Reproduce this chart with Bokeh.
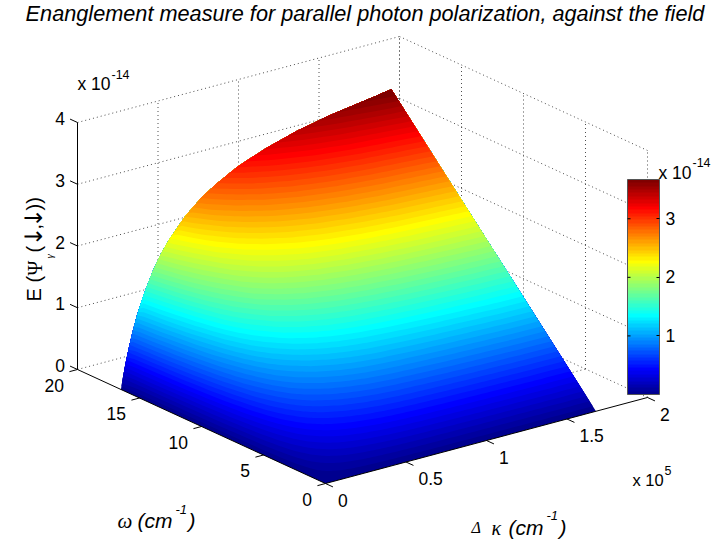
import numpy as np
from bokeh.core.properties import value
from bokeh.embed import file_html
from bokeh.models import ColorBar, FixedTicker, LinearColorMapper, Range1d
from bokeh.plotting import figure
from bokeh.resources import INLINE

TITLE = "Enanglement measure for parallel photon polarization, against the field"
K_TICKS = [0, 0.5, 1, 1.5, 2]
K_LABELS = ["0", "0.5", "1", "1.5", "2"]
W_TICKS = [0, 5, 10, 15, 20]
W_LABELS = ["0", "5", "10", "15", "20"]
Z_TICKS = [0, 1, 2, 3, 4]
Z_LABELS = ["0", "1", "2", "3", "4"]
CBAR_TICKS = [1, 2, 3]
CBAR_LABELS = ["1", "2", "3"]
CLIM = (0.0, 3.67)

# surface: kappa (x 1e5), omega, E (x 1e-14)
k_vals = [0, .01, .02, .03, .05, .07, .10, .14, .20, .25, .30, .40, .50, .60, .73, .90, 1.10, 1.30, 1.50, 1.68]
w_vals = [0, 5.5, 11, 16.5]
z_w0 = [0] * 20
z_w1 = [0, .05, .10, .14, .22, .29, .38, .49, .62, .71, .78, .89, .97, 1.03, 1.08, 1.12, 1.16, 1.19, 1.22, 1.23]
z_w2 = [0, .10, .19, .28, .43, .57, .75, .97, 1.23, 1.41, 1.55, 1.77, 1.92, 2.03, 2.14, 2.24, 2.32, 2.38, 2.42, 2.46]
z_w3 = [0, .15, .29, .42, .65, .86, 1.13, 1.43, 1.79, 2.03, 2.22, 2.53, 2.76, 2.93, 3.11, 3.28, 3.43, 3.54, 3.62, 3.69]

# ---- view of the 3-D box, in page pixels
ORIGIN = np.array([325.0, 483.0])
K_VEC = np.array([322.0, -86.0]) / 2      # per unit kappa
W_VEC = np.array([-248.0, -114.0]) / 20   # per unit omega
Z_VEC = np.array([0.0, -247.0]) / 4       # per unit E
BAR_LEFT, BAR_BOTTOM, BAR_W, BAR_H = 627, 394, 32, 215
SANS = value("Liberation Sans")
SERIF = value("Liberation Serif")
DEJA = value("DejaVu Sans")


def proj(k, w, z):
    k, w, z = np.asarray(k, float), np.asarray(w, float), np.asarray(z, float)
    return (ORIGIN[0] + K_VEC[0] * k + W_VEC[0] * w + Z_VEC[0] * z,
            ORIGIN[1] + K_VEC[1] * k + W_VEC[1] * w + Z_VEC[1] * z)


def jet(n):
    out = []
    for i in range(n):
        t = (i + 1) / n
        r = np.clip(min(4 * t - 1.5, -4 * t + 4.5), 0, 1)
        g = np.clip(min(4 * t - 0.5, -4 * t + 3.5), 0, 1)
        b = np.clip(min(4 * t + 0.5, -4 * t + 2.5), 0, 1)
        out.append("#%02x%02x%02x" % (round(r * 255), round(g * 255), round(b * 255)))
    return out


p = figure(width=711, height=539, output_backend="svg", toolbar_location=None,
           x_range=Range1d(0, 711), y_range=Range1d(539, 0),
           min_border=0, outline_line_color=None)
p.axis.visible = False
p.grid.visible = False

# ---- dotted box grid
gx0, gy0, gx1, gy1 = [], [], [], []


def seg(a, b):
    x0, y0 = proj(*a)
    x1, y1 = proj(*b)
    gx0.append(float(x0)); gy0.append(float(y0)); gx1.append(float(x1)); gy1.append(float(y1))


KM, WM, ZM = K_TICKS[-1], W_TICKS[-1], Z_TICKS[-1]
for z in Z_TICKS:
    seg((0, WM, z), (KM, WM, z))
    seg((KM, WM, z), (KM, 0, z))
for k in K_TICKS[1:]:
    seg((k, WM, 0), (k, WM, ZM))
    if k != KM:
        seg((k, 0, 0), (k, WM, 0))
for w in W_TICKS[1:]:
    seg((KM, w, 0), (KM, w, ZM))
    if w != WM:
        seg((0, w, 0), (KM, w, 0))
seg((KM, 0, 0), (KM, 0, ZM))
p.segment(gx0, gy0, gx1, gy1, line_color="#4d4d4d", line_width=1, line_dash="1 3")

# ---- surface, painted level by level from the colour map
palette = jet(64)
k_arr = np.array(k_vals, float)
w_arr = np.array(w_vals, float)
Z = np.array([z_w0, z_w1, z_w2, z_w3], float)
k_fine = np.concatenate([np.linspace(k_arr[i], k_arr[i + 1], 6, endpoint=False) for i in range(len(k_arr) - 1)] + [[k_arr[-1]]])
Z_fine = np.array([np.interp(k_fine, k_arr, row) for row in Z]).T
levels = np.linspace(CLIM[0], CLIM[1], 65)[:-1]
xs, ys = [], []
for i, lev in enumerate(levels):
    lo_w, lo_z = [], []
    for zc in Z_fine:
        if i == 0:
            lo_w.append(0.0); lo_z.append(0.0)
        elif lev >= zc[-1]:
            lo_w.append(w_arr[-1]); lo_z.append(zc[-1])
        else:
            lo_w.append(np.interp(lev, zc, w_arr)); lo_z.append(lev)
    px0, py0 = proj(k_fine, lo_w, lo_z)
    px1, py1 = proj(k_fine, np.full_like(k_fine, w_arr[-1]), Z_fine[:, -1])
    xs.append(np.concatenate([px0, px1[::-1]]).tolist())
    ys.append(np.concatenate([py0, py1[::-1]]).tolist())
p.patches(xs, ys, fill_color=palette, line_color=None)

# ---- axis lines and ticks
ax0, ay0, ax1, ay1 = [], [], [], []


def axis_seg(a, b):
    x0, y0 = proj(*a)
    x1, y1 = proj(*b)
    ax0.append(float(x0)); ay0.append(float(y0)); ax1.append(float(x1)); ay1.append(float(y1))


axis_seg((0, WM, 0), (0, WM, ZM))
axis_seg((0, 0, 0), (0, WM, 0))
axis_seg((0, 0, 0), (KM, 0, 0))
for z in Z_TICKS:
    axis_seg((0, WM, z), (0, WM + 0.6, z))
for w in W_TICKS:
    axis_seg((0, w, 0), (-0.05, w, 0))
for k in K_TICKS:
    axis_seg((k, 0, 0), (k, -0.6, 0))
p.segment(ax0, ay0, ax1, ay1, line_color="#000000", line_width=1)

# ---- tick labels
TS = "17.5px"


def ticks(x, y, labels, dx, dy, align, level="glyph"):
    p.text(np.asarray(x) + dx, np.asarray(y) + dy, text=labels, text_font=SANS, text_font_size=TS,
           text_align=align, text_baseline="middle", text_color="#000000", level=level)


x, y = proj([0] * 5, [WM] * 5, Z_TICKS)
ticks(x, y, Z_LABELS, -12.5, -4, "right")
x, y = proj([0] * 5, W_TICKS, [0] * 5)
ticks(x, y, W_LABELS, -13.5, 15.5, "right")
x, y = proj(K_TICKS, [0] * 5, [0] * 5)
ticks(x, y, K_LABELS, 12.5, 16.5, "left")


def label(x, y, s, size, font=SANS, style="normal", angle=0, align="left"):
    p.text([x], [y], text=[s], text_font=font, text_font_size=size, text_font_style=style,
           text_align=align, text_baseline="alphabetic", text_color="#000000", angle=angle)


# ---- title and axis titles
p.text([364.5], [12.5], text=[TITLE], text_font=SANS, text_font_size="21.7px", text_font_style="italic",
       text_align="center", text_baseline="middle", text_color="#000000")

label(77, 83, "x 10", "17.5px")
label(111, 74, "-14", "12.5px")
label(632, 479, "x 10", "16.5px")
label(664, 470, "5", "12.5px")
label(658, 172, "x 10", "17.5px")
label(692, 162, "-14", "12.5px")

R = np.pi / 2
label(33, 301, "E (", "20px", angle=R)
label(34, 275, "Ψ", "20px", font=SERIF, angle=R)
label(48, 258, "γ", "11px", font=SERIF, style="italic", angle=R)
label(33, 252, "(", "20px", angle=R)
label(33, 246, "↓", "24px", font=DEJA, angle=R)
label(33, 229, ",", "20px", angle=R)
label(33, 227.5, "↓", "24px", font=DEJA, angle=R)
label(33, 210, "))", "20px", angle=R)

label(117, 520, "ω", "21px", font=SERIF, style="italic")
label(137, 520, "(cm", "21px", style="italic")
label(175, 509, "-1", "13px", style="italic")
label(188, 520, ")", "21px", style="italic")
label(471, 527, "Δ", "16px", font=SERIF, style="italic")
label(491, 527, "κ", "20px", font=SERIF, style="italic")
label(508, 527, "(cm", "21px", style="italic")
label(546, 515, "-1", "13px", style="italic")
label(559, 527, ")", "21px", style="italic")

# ---- colour bar
mapper = LinearColorMapper(palette=palette, low=CLIM[0], high=CLIM[1])
cb = ColorBar(color_mapper=mapper, location=(BAR_LEFT, 539 - BAR_BOTTOM), width=BAR_W, height=BAR_H, padding=0, margin=0,
              ticker=FixedTicker(ticks=CBAR_TICKS), major_label_overrides={t: "" for t in CBAR_TICKS},
              major_label_text_font_size="1px",
              major_tick_line_color="#000000", major_tick_in=3, major_tick_out=0,
              minor_tick_line_color=None, bar_line_color="#555555", border_line_color=None,
              background_fill_color=None)
p.add_layout(cb, "center")
bar_y = BAR_BOTTOM - np.array(CBAR_TICKS, float) * BAR_H / (CLIM[1] - CLIM[0])
p.segment([BAR_LEFT] * 3, bar_y, [BAR_LEFT + 3] * 3, bar_y, line_color="#000000", line_width=1, level="overlay")
ticks([BAR_LEFT + BAR_W] * 3, bar_y, CBAR_LABELS, 6, -0.5, "left", level="overlay")

open("out.html", "w").write(file_html(p, INLINE))
